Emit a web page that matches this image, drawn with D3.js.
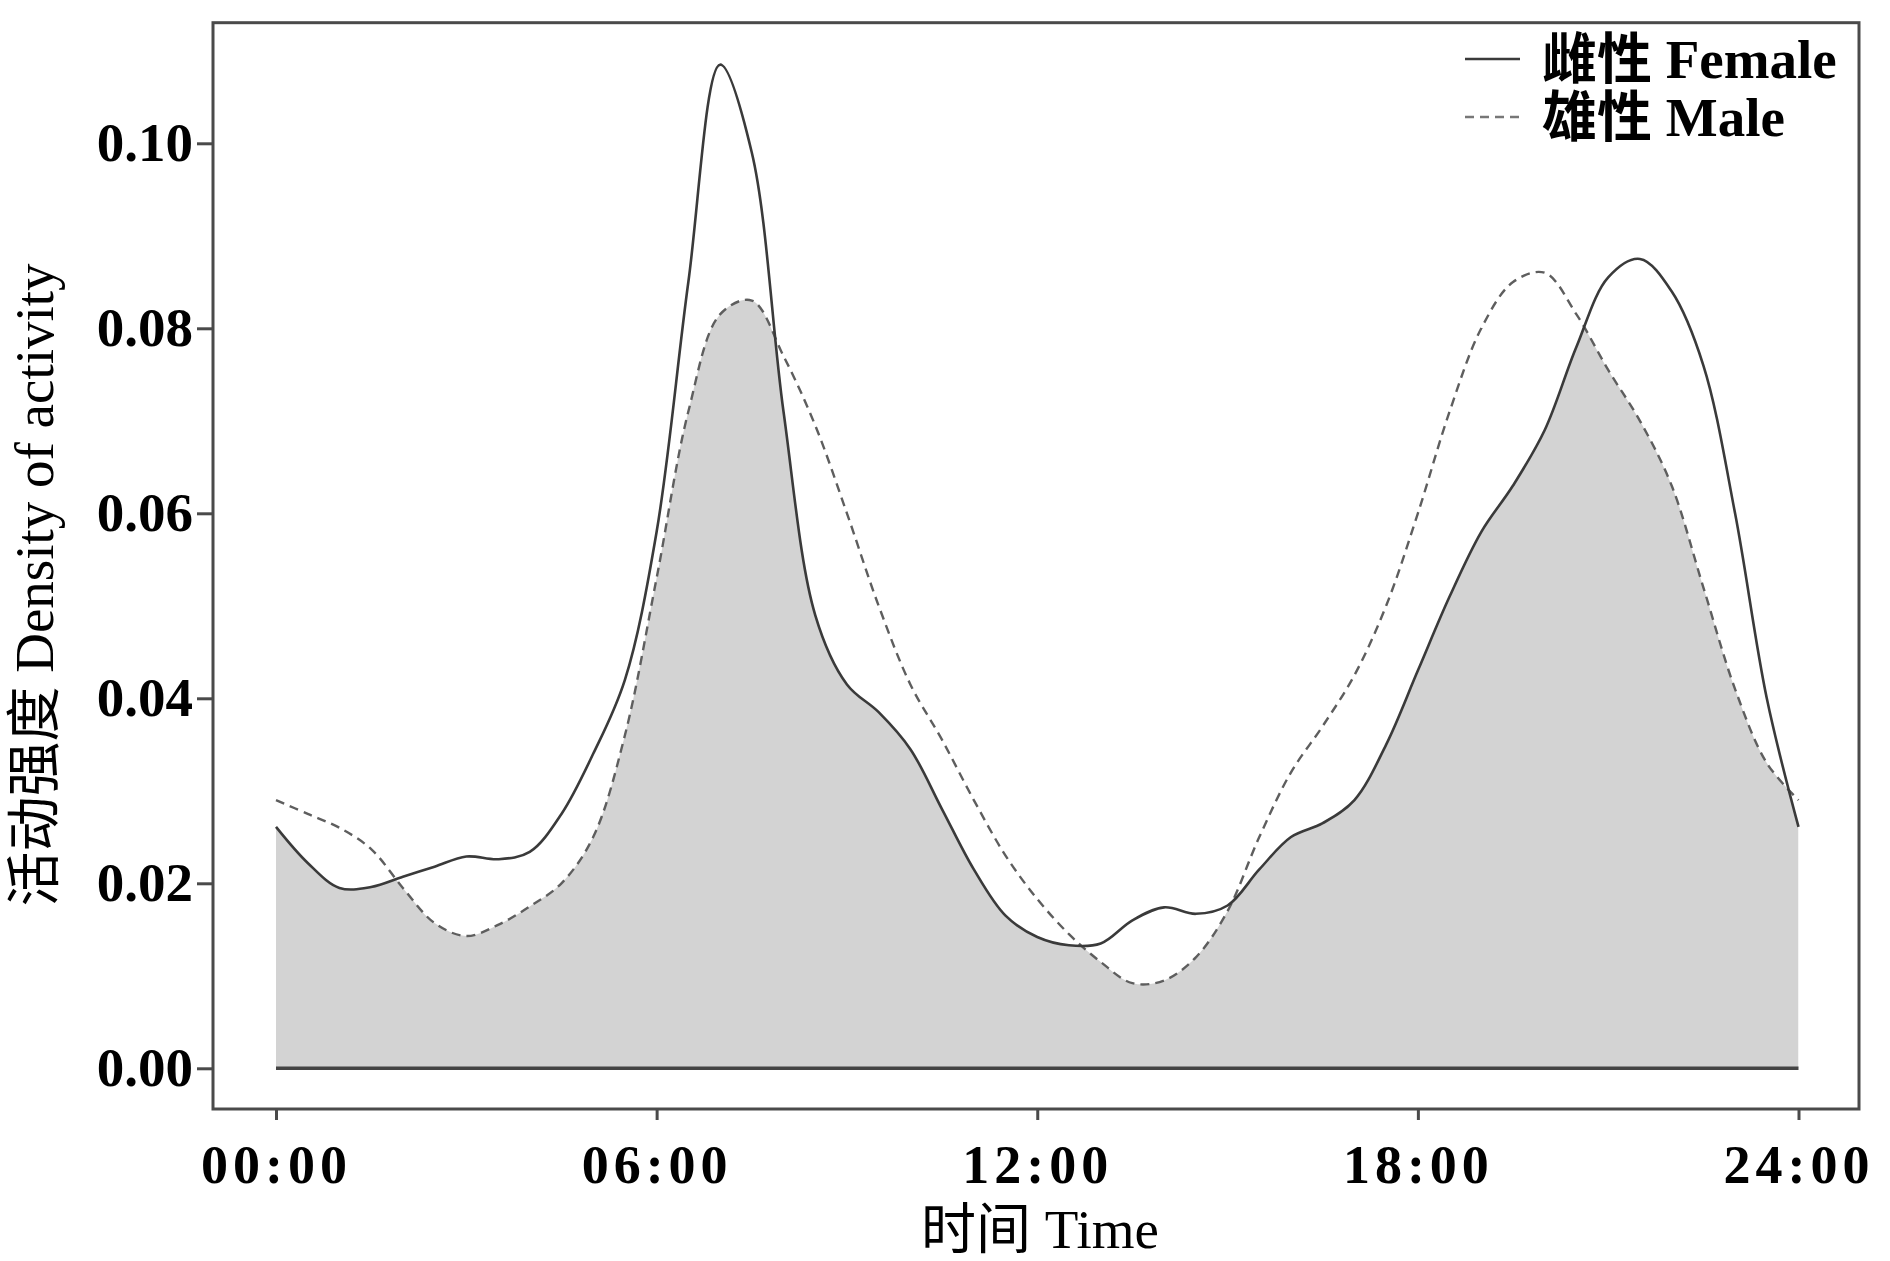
<!DOCTYPE html>
<html>
<head>
<meta charset="utf-8">
<script src="https://cdn.jsdelivr.net/npm/d3@7"></script>
<style>
  html, body { margin: 0; padding: 0; background: #fff; }
  svg { display: block; }
</style>
</head>
<body>
<script>
// ---- data ----
const hours = [0,0.5,1,1.5,2,2.5,3,3.5,4,4.5,5,5.5,6,6.5,7,7.5,8,8.5,9,9.5,10,10.5,11,11.5,12,
               12.5,13,13.5,14,14.5,15,15.5,16,16.5,17,17.5,18,18.5,19,19.5,20,20.5,21,21.5,22,22.5,23,23.5,24];
const female = [0.0261,0.0222,0.0195,0.0196,0.0207,0.0218,0.0229,0.0226,0.0234,0.0275,0.0340,0.0420,0.0580,0.0850,0.1085,0.0990,
                0.0710,0.0490,0.0415,0.0385,0.0345,0.0280,0.0215,0.0165,0.0142,0.0133,0.0135,0.0160,0.0174,0.0167,0.0176,0.0215,
                0.0250,0.0265,0.0290,0.0350,0.0430,0.0510,0.0580,0.0630,0.0690,0.0780,0.0855,0.0875,0.0840,0.0760,0.0600,0.0400,0.0261];
const male = [0.0290,0.0275,0.0260,0.0237,0.0195,0.0157,0.0143,0.0155,0.0175,0.0200,0.0250,0.0360,0.0530,0.0710,0.0815,0.0830,
              0.0770,0.0695,0.0600,0.0500,0.0415,0.0355,0.0290,0.0230,0.0183,0.0145,0.0115,0.0092,0.0095,0.0120,0.0170,0.0250,
              0.0320,0.0370,0.0425,0.0500,0.0600,0.0710,0.0800,0.0850,0.0860,0.0815,0.0755,0.0700,0.0630,0.0520,0.0410,0.0330,0.0290];
const xTicks = [0,6,12,18,24];
const xTickLabels = ["00:00","06:00","12:00","18:00","24:00"];
const yTicks = [0,0.02,0.04,0.06,0.08,0.10];
const seriesNames = ["雌性 Female","雄性 Male"];
const xTitle = "时间 Time";
const yTitle = "活动强度 Density of activity";

// ---- layout ----
const W = 1890, H = 1261;
const frame = {left:213, top:22.7, right:1859, bottom:1109};
const x = d3.scaleLinear().domain([0,24]).range([276,1798.5]);
const y = d3.scaleLinear().domain([0,0.1]).range([1068.3,143.3]);

const svg = d3.select("body").append("svg").attr("width",W).attr("height",H);
const serif = "'Liberation Serif','Noto Sans CJK SC',serif";

const fData = hours.map((h,i)=>({h, v:female[i]}));
const mData = hours.map((h,i)=>({h, v:male[i]}));
const curve = d3.curveCatmullRom.alpha(0.5);

const area = d3.area().x(d=>x(d.h)).y0(y(0)).y1(d=>y(d.v)).curve(curve);
const line = d3.line().x(d=>x(d.h)).y(d=>y(d.v)).curve(curve);

// overlap area: female area clipped by male area
svg.append("clipPath").attr("id","maleClip")
  .append("path").attr("d", area(mData));
svg.append("path").attr("d", area(fData))
  .attr("fill","#d3d3d3").attr("clip-path","url(#maleClip)");

// baseline
svg.append("line").attr("x1",x(0)).attr("x2",x(24)).attr("y1",y(0)).attr("y2",y(0))
  .attr("stroke","#444").attr("stroke-width",3.5);

// lines
svg.append("path").attr("d", line(mData)).attr("fill","none")
  .attr("stroke","#5e5e5e").attr("stroke-width",2.4).attr("stroke-dasharray","9,6");
svg.append("path").attr("d", line(fData)).attr("fill","none")
  .attr("stroke","#3a3a3a").attr("stroke-width",2.6);

// frame
svg.append("rect").attr("x",frame.left).attr("y",frame.top)
  .attr("width",frame.right-frame.left).attr("height",frame.bottom-frame.top)
  .attr("fill","none").attr("stroke","#4a4a4a").attr("stroke-width",3);

// y axis
const yAxis = svg.append("g").attr("transform",`translate(${frame.left},0)`)
  .call(d3.axisLeft(y).tickValues(yTicks).tickFormat(d3.format(".2f")).tickSize(16).tickPadding(4));
yAxis.select(".domain").remove();
yAxis.selectAll(".tick line").attr("stroke","#4a4a4a").attr("stroke-width",3);
yAxis.selectAll(".tick text").attr("font-family",serif).attr("font-weight","bold")
  .attr("font-size",55).attr("fill","#000");

// x axis
const xAxis = svg.append("g").attr("transform",`translate(0,${frame.bottom})`)
  .call(d3.axisBottom(x).tickValues(xTicks).tickFormat((d,i)=>xTickLabels[i]).tickSize(11).tickPadding(25));
xAxis.select(".domain").remove();
xAxis.selectAll(".tick line").attr("stroke","#4a4a4a").attr("stroke-width",3);
xAxis.selectAll(".tick text").attr("font-family",serif).attr("font-weight","bold")
  .attr("font-size",54).attr("letter-spacing",5).attr("fill","#000");

// axis titles
svg.append("text").attr("x",1040).attr("y",1248).attr("text-anchor","middle")
  .attr("font-family",serif).attr("font-size",55).attr("fill","#000").text(xTitle);
svg.append("text").attr("transform","translate(53,585) rotate(-90)").attr("text-anchor","middle")
  .attr("font-family",serif).attr("font-size",55).attr("fill","#000").text(yTitle);

// legend
const leg = svg.append("g");
const legY = [59,117];
leg.append("line").attr("x1",1465).attr("x2",1520).attr("y1",legY[0]).attr("y2",legY[0])
  .attr("stroke","#3a3a3a").attr("stroke-width",2.6);
leg.append("line").attr("x1",1465).attr("x2",1520).attr("y1",legY[1]).attr("y2",legY[1])
  .attr("stroke","#777").attr("stroke-width",2.4).attr("stroke-dasharray","9,6");
seriesNames.forEach((s,i)=>{
  leg.append("text").attr("x",1542).attr("y",legY[i]+19)
    .attr("font-family",serif).attr("font-weight","bold").attr("font-size",55)
    .attr("fill","#000").text(s);
});
</script>
</body>
</html>
